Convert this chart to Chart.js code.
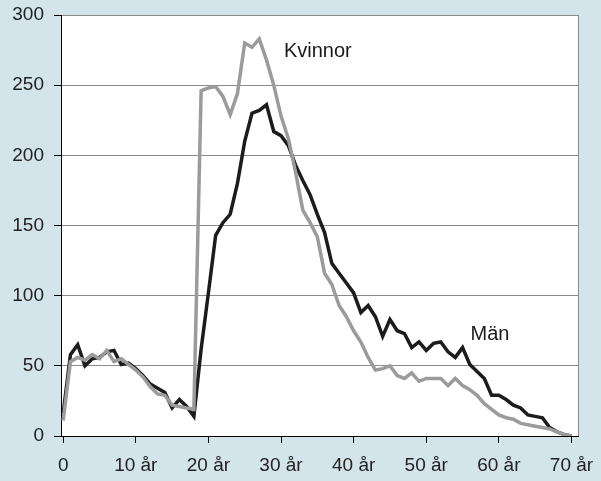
<!DOCTYPE html>
<html>
<head>
<meta charset="utf-8">
<script src="https://cdn.jsdelivr.net/npm/chart.js@4/dist/chart.umd.min.js"></script>
<style>
  html, body { margin: 0; padding: 0; background: #d3e4ea; }
  #wrap { width: 601px; height: 481px; }
</style>
</head>
<body>
<div id="wrap"><canvas id="c" width="601" height="481"></canvas></div>
<script>
// ---- data ----
const ages = [0,1,2,3,4,5,6,7,8,9,10,11,12,13,14,15,16,17,18,19,20,21,22,23,24,25,26,27,28,29,30,31,32,33,34,35,36,37,38,39,40,41,42,43,44,45,46,47,48,49,50,51,52,53,54,55,56,57,58,59,60,61,62,63,64,65,66,67,68,69,70];
const man = [16,58,65,50,55,56,60,61,51,52, 48,43,37,34,31,20,26,21,14,62, 102,143,152,158,180,210,230,232,236,217, 214,207,193,182,172,158,145,123,116,109, 102,88,93,85,71,83,75,73,63,67, 61,66,67,60,56,63,51,46,41,29, 29,26,22,20,15,14,13,6,3,1, 0];
const kvinnor = [11,53,56,54,58,55,61,53,55,51, 47,42,35,30,29,22,21,20,19,246, 248,249,242,229,244,280,277,283,268,250, 228,212,188,161,152,142,116,108,93,85, 75,67,56,47,48,50,43,41,45,39, 41,41,41,36,41,36,33,29,23,19, 15,13,12,9,8,7,6,5,3,1, 0];
const xTickValues = [0,10,20,30,40,50,60,70];
const xTickLabels = ['0','10 år','20 år','30 år','40 år','50 år','60 år','70 år'];
const yTickValues = [0,50,100,150,200,250,300];
const seriesNames = ['Kvinnor','Män'];

// label anchors (in data units)
const labelAnchors = { 'Kvinnor': [30.4, 274], 'Män': [56.1, 72] };

const bgPlugin = {
  id: 'bg',
  beforeDraw(chart) {
    const ctx = chart.ctx, a = chart.chartArea;
    ctx.save();
    ctx.fillStyle = '#d3e4ea';
    ctx.fillRect(0, 0, chart.width, chart.height);
    ctx.fillStyle = '#ffffff';
    ctx.fillRect(a.left, a.top, a.right - a.left, a.bottom - a.top);
    ctx.restore();
  },
  afterDraw(chart) {
    const ctx = chart.ctx, a = chart.chartArea;
    ctx.save();
    ctx.strokeStyle = '#8a8a8a';
    ctx.lineWidth = 1;
    ctx.beginPath();
    ctx.moveTo(a.right + 0.5, a.top);
    ctx.lineTo(a.right + 0.5, a.bottom);
    ctx.stroke();
    // series labels
    ctx.fillStyle = '#1a1a1a';
    ctx.font = '20px "Liberation Sans", Arial, sans-serif';
    ctx.textAlign = 'left';
    ctx.textBaseline = 'middle';
    const xs = chart.scales.x, ys = chart.scales.y;
    seriesNames.forEach(n => {
      const p = labelAnchors[n];
      ctx.fillText(n, xs.getPixelForValue(p[0]), ys.getPixelForValue(p[1]));
    });
    ctx.restore();
  }
};

Chart.defaults.font.family = '"Liberation Sans", Arial, sans-serif';
Chart.defaults.font.size = 19;
Chart.defaults.color = '#222222';

new Chart(document.getElementById('c'), {
  type: 'line',
  data: {
    datasets: [
      {
        label: 'Kvinnor',
        data: ages.map((a, i) => ({ x: a, y: kvinnor[i] })),
        borderColor: '#9b9b9b',
        borderWidth: 3.5,
        pointRadius: 0,
        tension: 0,
        order: 0
      },
      {
        label: 'Män',
        data: ages.map((a, i) => ({ x: a, y: man[i] })),
        borderColor: '#1c1c1c',
        borderWidth: 3.5,
        pointRadius: 0,
        tension: 0,
        order: 1
      }
    ]
  },
  options: {
    responsive: false,
    animation: false,
    events: [],
    layout: { padding: { top: 15, right: 23, left: 0, bottom: 0 } },
    plugins: { legend: { display: false }, tooltip: { enabled: false } },
    scales: {
      x: {
        type: 'linear',
        min: -0.3,
        max: 70.9,
        afterBuildTicks(scale) { scale.ticks = xTickValues.map(v => ({ value: v })); },
        afterFit(scale) {
          scale.height = 45;
          scale.paddingLeft = 0; scale.paddingRight = 0;
          scale.paddingTop = 0; scale.paddingBottom = 0;
        },
        ticks: {
          callback(v) { const i = xTickValues.indexOf(v); return i >= 0 ? xTickLabels[i] : ''; },
          autoSkip: false,
          maxRotation: 0,
          padding: 11,
          color: '#222222'
        },
        grid: {
          drawOnChartArea: false,
          drawTicks: true,
          tickLength: 7,
          tickColor: '#000000',
          tickWidth: 1
        },
        border: { color: '#000000', width: 1 }
      },
      y: {
        min: 0,
        max: 300,
        afterBuildTicks(scale) { scale.ticks = yTickValues.map(v => ({ value: v })); },
        afterFit(scale) {
          scale.width = 61;
          scale.paddingTop = 0; scale.paddingBottom = 0;
          scale.paddingLeft = 0; scale.paddingRight = 0;
        },
        ticks: { padding: 10, color: '#222222' },
        grid: {
          color: '#8a8a8a',
          lineWidth: 1,
          drawTicks: true,
          tickLength: 7,
          tickColor: '#000000'
        },
        border: { color: '#000000', width: 1 }
      }
    }
  },
  plugins: [bgPlugin]
});
</script>
</body>
</html>
